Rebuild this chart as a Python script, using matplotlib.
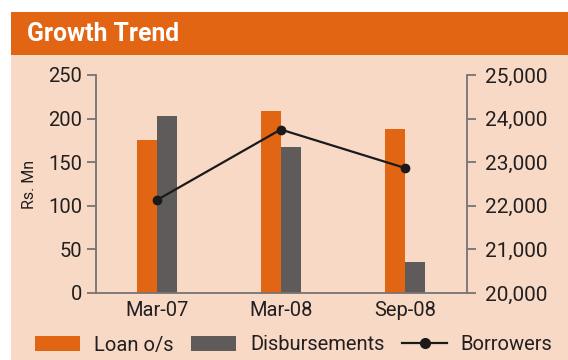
import matplotlib
matplotlib.use("Agg")
import matplotlib.pyplot as plt
from matplotlib.patches import Rectangle, Patch
from matplotlib.lines import Line2D
from matplotlib.ticker import FuncFormatter
import numpy as np

# Data
periods = ["Mar-07", "Mar-08", "Sep-08"]
loan_os = [175, 209, 188]          # Rs. Mn
disbursements = [203, 167, 36]     # Rs. Mn
borrowers = [22130, 23750, 22870]  # count

ORANGE = "#E26513"
GREY = "#5E5B5A"
PEACH = "#F8D9C5"
AXIS = "#767474"
TEXT = "#231F20"

plt.rcParams["font.family"] = ["Roboto", "DejaVu Sans"]

W, H = 568, 360
fig = plt.figure(figsize=(W / 100, H / 100), dpi=100, facecolor="white")

# Panel background and header band
fig.patches.append(Rectangle((11 / W, 0), 1 - 11 / W, (H - 55) / H,
                             transform=fig.transFigure, facecolor=PEACH,
                             edgecolor="none", zorder=-10))
fig.patches.append(Rectangle((11 / W, (H - 55) / H), 1 - 11 / W, 43 / H,
                             transform=fig.transFigure, facecolor=ORANGE,
                             edgecolor="none", zorder=-10))
fig.text(27 / W, (H - 34) / H, "Growth Trend", color="white",
         fontsize=17.8, fontweight="bold", va="center", ha="left")

ax = fig.add_axes([96 / W, (H - 293) / H, 370.7 / W, 218 / H])
ax.set_facecolor("none")

x = np.arange(len(periods))
bw = 0.16
ax.bar(x - bw / 2, loan_os, bw, color=ORANGE, zorder=2)
ax.bar(x + bw / 2, disbursements, bw, color=GREY, zorder=2)

ax.set_xlim(-0.49, 2.5)
ax.set_ylim(0, 250)
ax.set_yticks(range(0, 251, 50))
ax.set_xticks(x)
ax.set_xticklabels(periods)

for s in ("top", "right"):
    ax.spines[s].set_visible(False)
for s in ("left", "bottom"):
    ax.spines[s].set_color(AXIS)
    ax.spines[s].set_linewidth(1.3)

ax.tick_params(axis="y", length=6.5, width=1.3, color=AXIS, pad=3.5,
               labelsize=14.5, labelcolor=TEXT)
ax.tick_params(axis="x", length=0, pad=6, labelsize=14.5, labelcolor=TEXT)
ax.set_ylabel("Rs. Mn", fontsize=11.5, color=TEXT, labelpad=8)

ax2 = ax.twinx()
ax2.plot(x, borrowers, color="#1A1A1A", lw=1.6, marker="o", markersize=6,
         zorder=3)
ax2.set_ylim(20000, 25000)
ax2.set_yticks(range(20000, 25001, 1000))
ax2.yaxis.set_major_formatter(FuncFormatter(lambda v, p: f"{int(v):,}"))
for s in ("top", "left", "bottom"):
    ax2.spines[s].set_visible(False)
ax2.spines["right"].set_color(AXIS)
ax2.spines["right"].set_linewidth(1.3)
ax2.tick_params(axis="y", length=6.5, width=1.3, color=AXIS, pad=6.5,
                labelsize=15, labelcolor=TEXT)

handles = [
    Patch(facecolor=ORANGE, edgecolor="none", label="Loan o/s"),
    Patch(facecolor=GREY, edgecolor="none", label="Disbursements"),
    Line2D([], [], color="#1A1A1A", lw=1.6, marker="o", markersize=7,
           label="Borrowers"),
]
fig.legend(handles=handles, loc="center", ncol=3,
           bbox_to_anchor=(294 / W, (H - 345) / H), frameon=False,
           fontsize=14.5, labelcolor=TEXT, handlelength=2.2, handleheight=0.7,
           handletextpad=0.7, columnspacing=0.9, borderaxespad=0)

fig.savefig("out.png", dpi=100, facecolor="white")
